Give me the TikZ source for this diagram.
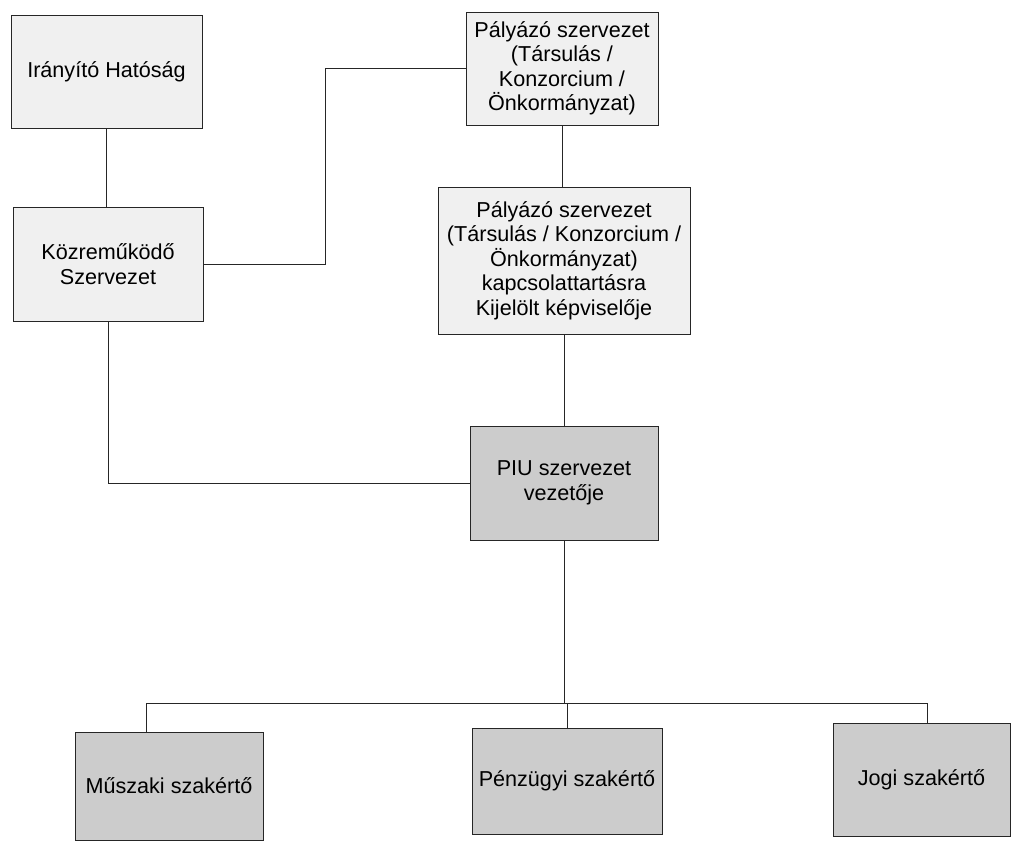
\documentclass[tikz,border=0pt]{standalone}
\usepackage{fontspec}
\setmainfont{Liberation Sans}
\begin{document}
\begin{tikzpicture}[x=1pt,y=-1pt,
  box/.style={draw=black!85, line width=0.9pt, inner sep=2pt, align=center,
    font=\fontsize{21.6}{24.5}\selectfont},
  lightbox/.style={box, fill=black!6},
  darkbox/.style={box, fill=black!20},
  link/.style={draw=black!85, line width=0.8pt}]
\useasboundingbox (0,0) rectangle (1011,841);
\fill[white] (0,0) rectangle (1011,841);
\node[lightbox, minimum width=191, minimum height=113] (ih) at (106.5,71.5) {Irányító Hatóság};
\node[lightbox, minimum width=190, minimum height=114] (kz) at (108,264) {Közreműködő\\Szervezet};
\node[lightbox, minimum width=192, minimum height=113] (p1) at (562,68.5) {Pályázó szervezet\\(Társulás /\\Konzorcium /\\Önkormányzat)};
\node[lightbox, minimum width=252, minimum height=147] (p2) at (564,260.5) {Pályázó szervezet\\(Társulás / Konzorcium /\\Önkormányzat)\\kapcsolattartásra\\Kijelölt képviselője};
\node[darkbox, minimum width=188, minimum height=114] (piu) at (564,483) {PIU szervezet\\vezetője};
\node[darkbox, minimum width=188, minimum height=108] (msz) at (169,786) {Műszaki szakértő};
\node[darkbox, minimum width=190, minimum height=106] (psz) at (567,781) {Pénzügyi szakértő};
\node[darkbox, minimum width=177, minimum height=113] (jsz) at (921.5,779.5) {Jogi szakértő};
\coordinate (bl) at (146,703);
\coordinate (bm) at (567,703);
\coordinate (br) at (927,703);
\coordinate (kzp) at (325,264);
\draw[link] (ih.south) -- (ih.south |- kz.north);
\draw[link] (kz.east) -- (kzp) |- (p1.west);
\draw[link] (p1.south) -- (p1.south |- p2.north);
\draw[link] (p2.south) -- (p2.south |- piu.north);
\draw[link] (kz.south) |- (piu.west);
\draw[link] (piu.south) -- (piu.south |- bm);
\draw[link] (bl) -- (br);
\draw[link] (bl) -- (bl |- msz.north);
\draw[link] (bm) -- (bm |- psz.north);
\draw[link] (br) -- (br |- jsz.north);
\end{tikzpicture}
\end{document}
